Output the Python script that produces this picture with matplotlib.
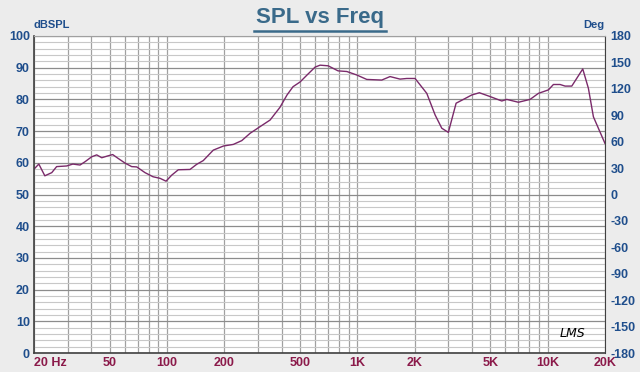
import matplotlib.pyplot as plt
from matplotlib.ticker import FixedLocator, NullFormatter

plt.rcParams['font.family'] = ['Liberation Sans', 'DejaVu Sans']
plt.rcParams['axes.unicode_minus'] = False

# frequency response
freq = [20, 21.2, 22.8, 24.8, 26.3, 29.7, 32, 34.9, 37, 40.2, 42.7, 45.4, 49,
        51.8, 55.3, 60.2, 65.2, 69.3, 76.6, 84.4, 91.9, 98.8, 105.8, 114.6,
        132, 143, 155, 175, 198, 223, 247, 273, 308, 348, 392, 427, 459, 500,
        544, 600, 637, 702, 792, 880, 993, 1120, 1343, 1485, 1676, 1818, 2010,
        2316, 2561, 2777, 3006, 3302, 3607, 3992, 4376, 4978, 5738, 6095,
        7015, 8081, 8934, 10086, 10714, 11616, 12341, 13382, 15282, 16361,
        17385, 20000]
spl = [58, 59.6, 55.9, 56.9, 58.8, 59, 59.6, 59.3, 60.3, 61.9, 62.5, 61.6,
       62.2, 62.6, 61.4, 59.9, 58.8, 58.7, 56.9, 55.6, 55.1, 54.2, 56.1, 57.8,
       57.9, 59.5, 60.7, 64, 65.3, 65.8, 67, 69.3, 71.4, 73.5, 77.5, 81.4,
       84, 85.5, 87.7, 90.2, 90.8, 90.6, 89, 88.8, 87.7, 86.3, 86.1, 87.2,
       86.4, 86.6, 86.6, 81.9, 75.1, 70.9, 69.6, 78.8, 80, 81.4, 82.1, 80.9,
       79.5, 80, 79.1, 80, 81.9, 83, 84.7, 84.7, 84.2, 84.2, 89.6, 83.5, 74.5,
       66.1]

xtick_vals = [20, 50, 100, 200, 500, 1000, 2000, 5000, 10000, 20000]
xtick_labels = ['20 Hz', '50', '100', '200', '500', '1K', '2K', '5K', '10K', '20K']
spl_ticks = list(range(0, 101, 10))
deg_ticks = list(range(-180, 181, 30))

bg = '#ECECEC'
blue = '#1F4E8C'
red = '#8B1A4A'

fig = plt.figure(figsize=(6.4, 3.72), dpi=100, facecolor=bg)
ax = fig.add_axes([34 / 640, 19 / 372, 571 / 640, 317 / 372])
ax.set_facecolor('white')

ax.set_xscale('log')
ax.set_xlim(20, 20000)
ax.set_ylim(0, 100)

minor_x = [m * d for d in [10, 100, 1000, 10000] for m in range(1, 10)
           if 20 < m * d < 20000]
ax.xaxis.set_minor_locator(FixedLocator(minor_x))
ax.xaxis.set_minor_formatter(NullFormatter())
ax.set_xticks(xtick_vals)
ax.set_xticklabels(xtick_labels)
ax.set_yticks(spl_ticks)
ax.yaxis.set_minor_locator(FixedLocator([v for v in range(0, 101, 2) if v % 10]))

ax.grid(True, which='major', axis='y', color='#8C8C8C', linewidth=0.9)
ax.grid(True, which='minor', axis='y', color='#C8C8C8', linewidth=0.8)
ax.grid(True, which='both', axis='x', color='#A0A0A0', linewidth=0.9)
ax.set_axisbelow(True)

ax.plot(freq, spl, color='#7A2A6A', linewidth=1.0)

ax.tick_params(axis='both', which='both', length=0)
ax.tick_params(axis='y', pad=3, labelsize=9, labelcolor=blue)
ax.tick_params(axis='x', pad=3, labelsize=9, labelcolor=red)
for lbl in ax.get_yticklabels() + ax.get_xticklabels():
    lbl.set_fontweight('bold')
ax.get_xticklabels()[0].set_horizontalalignment('left')
ax.get_xticklabels()[0].set_x(19)

for s in ['left', 'bottom', 'right', 'top']:
    ax.spines[s].set_color('#404040')
ax.spines['left'].set_linewidth(1.2)
ax.spines['bottom'].set_linewidth(1.2)
ax.spines['top'].set_color('#A0A0A0')

ax2 = ax.twinx()
ax2.set_ylim(-180, 180)
ax2.set_yticks(deg_ticks)
ax2.tick_params(axis='y', length=0, pad=4, labelsize=9, labelcolor=blue)
for lbl in ax2.get_yticklabels():
    lbl.set_fontweight('bold')
for s in ['left', 'bottom', 'right', 'top']:
    ax2.spines[s].set_visible(False)

fig.text(0.5, 0.953, 'SPL vs Freq', ha='center', va='center', fontsize=16,
         fontweight='bold', color='#3A6A8A')
fig.add_artist(plt.Line2D([254 / 640, 386 / 640], [0.918, 0.918],
                          color='#3A6A8A', linewidth=1.8))
fig.text(34 / 640, 0.932, 'dBSPL', ha='left', va='center', fontsize=8,
         fontweight='bold', color=blue)
fig.text(604 / 640, 0.932, 'Deg', ha='right', va='center', fontsize=8,
         fontweight='bold', color=blue)
ax.text(0.965, 0.04, 'LMS', transform=ax.transAxes, ha='right', va='bottom',
        fontsize=9, style='italic', color='black', family='DejaVu Sans')

fig.savefig('out.png', dpi=100, facecolor=bg)
